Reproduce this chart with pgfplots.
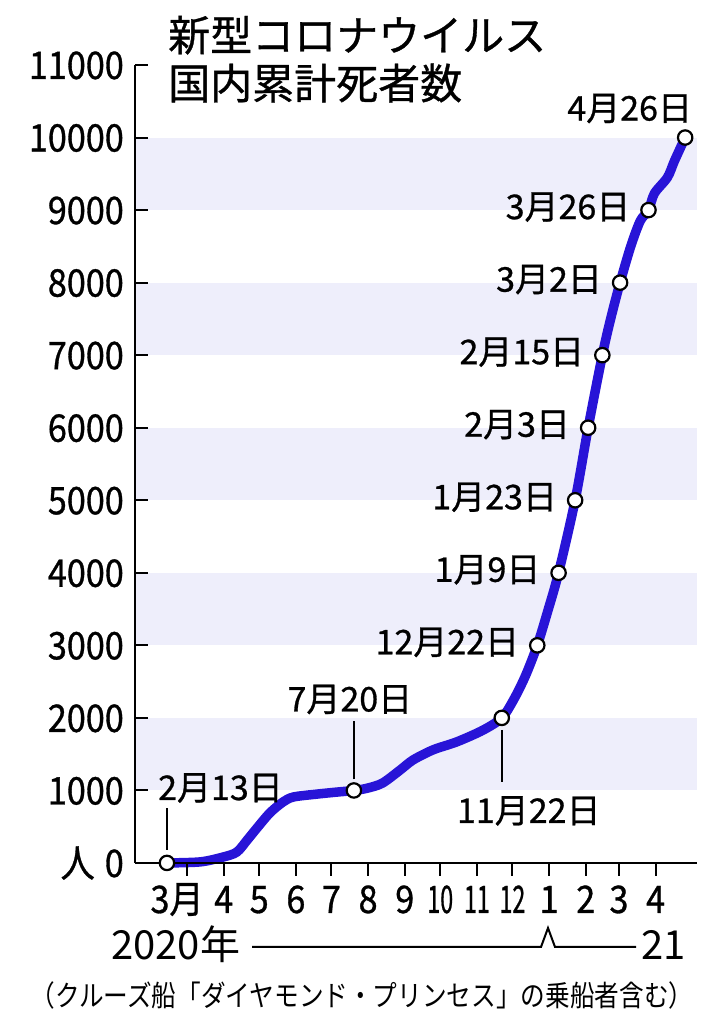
\documentclass[border=0pt]{standalone}
\usepackage{fontspec}
\setmainfont{Noto Sans CJK JP}
\newfontfamily\tickfont[FakeStretch=0.9, FakeBold=0.8]{Noto Sans CJK JP}
\newfontfamily\labfont[FakeBold=0.8]{Noto Sans CJK JP}
\newfontfamily\notefont[FakeStretch=0.85]{Noto Sans CJK JP}
\usepackage{graphicx}
\usepackage{pgfplots}
\pgfplotsset{compat=1.18}
\definecolor{lineblue}{RGB}{40,20,215}
\definecolor{band}{RGB}{238,238,251}
\newcommand{\narrow}[1]{\scalebox{0.68}[1]{#1}}
\newcommand{\annfont}{\labfont\fontsize{34pt}{36pt}\selectfont}

\begin{document}
\begin{tikzpicture}
\path[use as bounding box] (0,0) rectangle (726pt,1024pt);
\begin{axis}[
    at={(135pt,161pt)}, anchor=south west,
    width=562pt, height=798pt, scale only axis,
    xmin=16, xmax=491, ymin=0, ymax=11000,
    axis x line*=bottom, axis y line*=left,
    axis line style={-, line width=2pt, black},
    axis on top, clip=false,
    scaled y ticks=false,
    % month starts, counted in days from 1 Jan 2020
    xtick={60,91,121,152,182,213,244,274,305,335,366,397,425,456},
    xticklabels={\hspace*{-20pt}3月,4,5,6,7,8,9,\narrow{10},\narrow{11},\narrow{12},1,2,3,4},
    ytick={0,1000,...,11000},
    yticklabels={人\hspace{10pt}0,1000,2000,3000,4000,5000,6000,7000,8000,9000,10000,11000},
    xtick align=outside, ytick align=inside,
    major tick length=13pt,
    tick style={line width=2pt, black},
    ticklabel style={font=\tickfont\fontsize{38pt}{40pt}\selectfont, inner sep=0pt},
    xticklabel style={anchor=base, yshift=-37pt},
    yticklabel style={anchor=base east, xshift=-11pt, yshift=-14pt},
]
% shaded bands
\addplot[fill=band, draw=none, forget plot] coordinates {(16,1000) (491,1000) (491,2000) (16,2000)} -- cycle;
\addplot[fill=band, draw=none, forget plot] coordinates {(16,3000) (491,3000) (491,4000) (16,4000)} -- cycle;
\addplot[fill=band, draw=none, forget plot] coordinates {(16,5000) (491,5000) (491,6000) (16,6000)} -- cycle;
\addplot[fill=band, draw=none, forget plot] coordinates {(16,7000) (491,7000) (491,8000) (16,8000)} -- cycle;
\addplot[fill=band, draw=none, forget plot] coordinates {(16,9000) (491,9000) (491,10000) (16,10000)} -- cycle;

% cumulative deaths
\addplot[lineblue, line width=9.5pt, smooth, tension=0.5, line join=round, line cap=round] coordinates {
    (43,1) (71,15) (90,80) (102,150) (111,320) (119,480) (130,690) (141,840)
    (150,910) (170,950) (185,975) (201,1000) (212,1030) (225,1100) (240,1280)
    (251,1420) (268,1560) (288,1670) (310,1830) (326,2000) (336,2250) (346,2580)
    (356,3000) (365,3480) (374,4000) (388,5000) (399,6000) (411,7000) (418,7500)
    (426,8000) (435,8500) (443,8850) (450,9000) (455,9230) (466,9450) (472,9680)
    (481,10000)
};
\addplot[only marks, mark=*, mark size=7.2pt, mark options={fill=white, draw=black, line width=2.2pt}] coordinates {
    (43,1) (201,1000) (326,2000) (356,3000) (374,4000) (388,5000)
    (399,6000) (411,7000) (426,8000) (450,9000) (481,10000)
};

% labels
\draw[line width=2pt] ([yshift=13pt]axis cs:43,0) -- ([yshift=55pt]axis cs:43,0);
\node[anchor=base west, inner sep=0pt, font=\annfont, xshift=-9pt, yshift=63pt] at (axis cs:43,0) {2月13日};
\draw[line width=2pt] ([yshift=11pt]axis cs:201,1000) -- ([yshift=69pt]axis cs:201,1000);
\node[anchor=base, inner sep=0pt, font=\annfont, xshift=-4pt, yshift=79pt] at (axis cs:201,1000) {7月20日};
\draw[line width=2pt] ([yshift=-12pt]axis cs:326,2000) -- ([yshift=-64pt]axis cs:326,2000);
\node[anchor=base, inner sep=0pt, font=\annfont, xshift=27pt, yshift=-105pt] at (axis cs:326,2000) {11月22日};
\node[anchor=east, inner sep=0pt, font=\annfont, xshift=-18pt, yshift=3pt] at (axis cs:356,3000) {12月22日};
\node[anchor=east, inner sep=0pt, font=\annfont, xshift=-18pt, yshift=3pt] at (axis cs:374,4000) {1月9日};
\node[anchor=east, inner sep=0pt, font=\annfont, xshift=-18pt, yshift=3pt] at (axis cs:388,5000) {1月23日};
\node[anchor=east, inner sep=0pt, font=\annfont, xshift=-18pt, yshift=3pt] at (axis cs:399,6000) {2月3日};
\node[anchor=east, inner sep=0pt, font=\annfont, xshift=-18pt, yshift=3pt] at (axis cs:411,7000) {2月15日};
\node[anchor=east, inner sep=0pt, font=\annfont, xshift=-18pt, yshift=3pt] at (axis cs:426,8000) {3月2日};
\node[anchor=east, inner sep=0pt, font=\annfont, xshift=-18pt, yshift=3pt] at (axis cs:450,9000) {3月26日};
\node[anchor=base east, inner sep=0pt, font=\annfont, xshift=7pt, yshift=17pt] at (axis cs:481,10000) {4月26日};
\end{axis}

% title
\node[anchor=base west, inner sep=0pt, font=\labfont\fontsize{42pt}{44pt}\selectfont] at (168pt,973pt) {新型コロナウイルス};
\node[anchor=base west, inner sep=0pt, font=\labfont\fontsize{42pt}{44pt}\selectfont] at (168pt,925pt) {国内累計死者数};

% year row
\node[anchor=base west, inner sep=0pt, font=\fontsize{40pt}{42pt}\selectfont] at (111pt,64pt) {2020年};
\draw[line width=2pt] (252pt,77pt) -- (541pt,77pt) -- (548pt,96pt) -- (555pt,77pt) -- (636pt,77pt);
\node[anchor=base west, inner sep=0pt, font=\fontsize{40pt}{42pt}\selectfont] at (641pt,64pt) {21};

% note
\node[anchor=base, inner sep=0pt, font=\notefont\fontsize{29pt}{31pt}\selectfont] at (362pt,17pt) {（クルーズ船「ダイヤモンド・プリンセス」の乗船者含む）};
\end{tikzpicture}
\end{document}
